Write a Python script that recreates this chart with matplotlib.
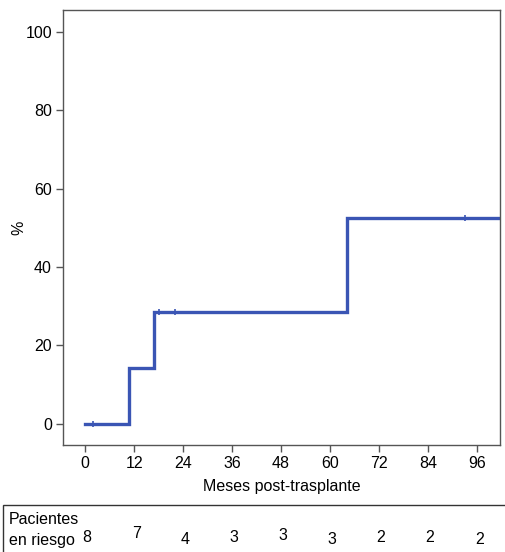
import matplotlib
matplotlib.use("Agg")
import matplotlib.pyplot as plt
from matplotlib.patches import Rectangle

plt.rcParams['font.family'] = ['Liberation Sans', 'DejaVu Sans']

# curva de incidencia acumulada (meses, %)
tiempos = [0, 10.8, 16.9, 64.2, 101.6]
porcentaje = [0, 14.3, 28.6, 52.4, 52.4]
# censuras
cens_t = [2, 18, 22, 93]
cens_y = [0, 28.6, 28.6, 52.4]

meses_ticks = [0, 12, 24, 36, 48, 60, 72, 84, 96]
en_riesgo = [8, 7, 4, 3, 3, 3, 2, 2, 2]
# pequeños desplazamientos verticales de los números (px)
desfase = [0, 4, -2, 0, 2, -3, 0, 0, -3]

color = '#3a55b4'

fig = plt.figure(figsize=(5.05, 5.52), dpi=100)
ax = fig.add_axes([63 / 505, 107 / 552, 437 / 505, 435 / 552])

ax.step(tiempos, porcentaje, where='post', color=color, linewidth=2.4, solid_joinstyle='miter')
ax.plot(cens_t, cens_y, linestyle='none', marker='|', markersize=5, color=color, markeredgewidth=1.2)

ax.set_xlim(-5.4, 101.6)
ax.set_ylim(-5.4, 105.6)
ax.set_xticks(meses_ticks)
ax.set_yticks([0, 20, 40, 60, 80, 100])
ax.tick_params(direction='out', length=5, width=1, color='#555555', labelsize=11.5, pad=3)
for s in ax.spines.values():
    s.set_color('#555555')
    s.set_linewidth(1)
ax.set_xlabel('Meses post-trasplante', fontsize=11.5, labelpad=6)
ax.set_ylabel('%', fontsize=11.5, labelpad=-1)

# tabla de pacientes en riesgo
fig.patches.append(Rectangle((3 / 505, -0.01), 1.0, (552 - 505) / 552 + 0.01, transform=fig.transFigure,
                             fill=False, edgecolor='#333333', linewidth=1))
fig.text(9 / 505, 1 - 520 / 552, 'Pacientes', fontsize=11.5, va='center', ha='left')
fig.text(9 / 505, 1 - 540 / 552, 'en riesgo', fontsize=11.5, va='center', ha='left')
for m, n, d in zip(meses_ticks, en_riesgo, desfase):
    xf = fig.transFigure.inverted().transform(ax.transData.transform((m, 0)))[0]
    fig.text(xf + 2 / 505, 1 - (537 - d) / 552, str(n), fontsize=11.5, va='center', ha='center')

fig.savefig('out.png', dpi=100)
